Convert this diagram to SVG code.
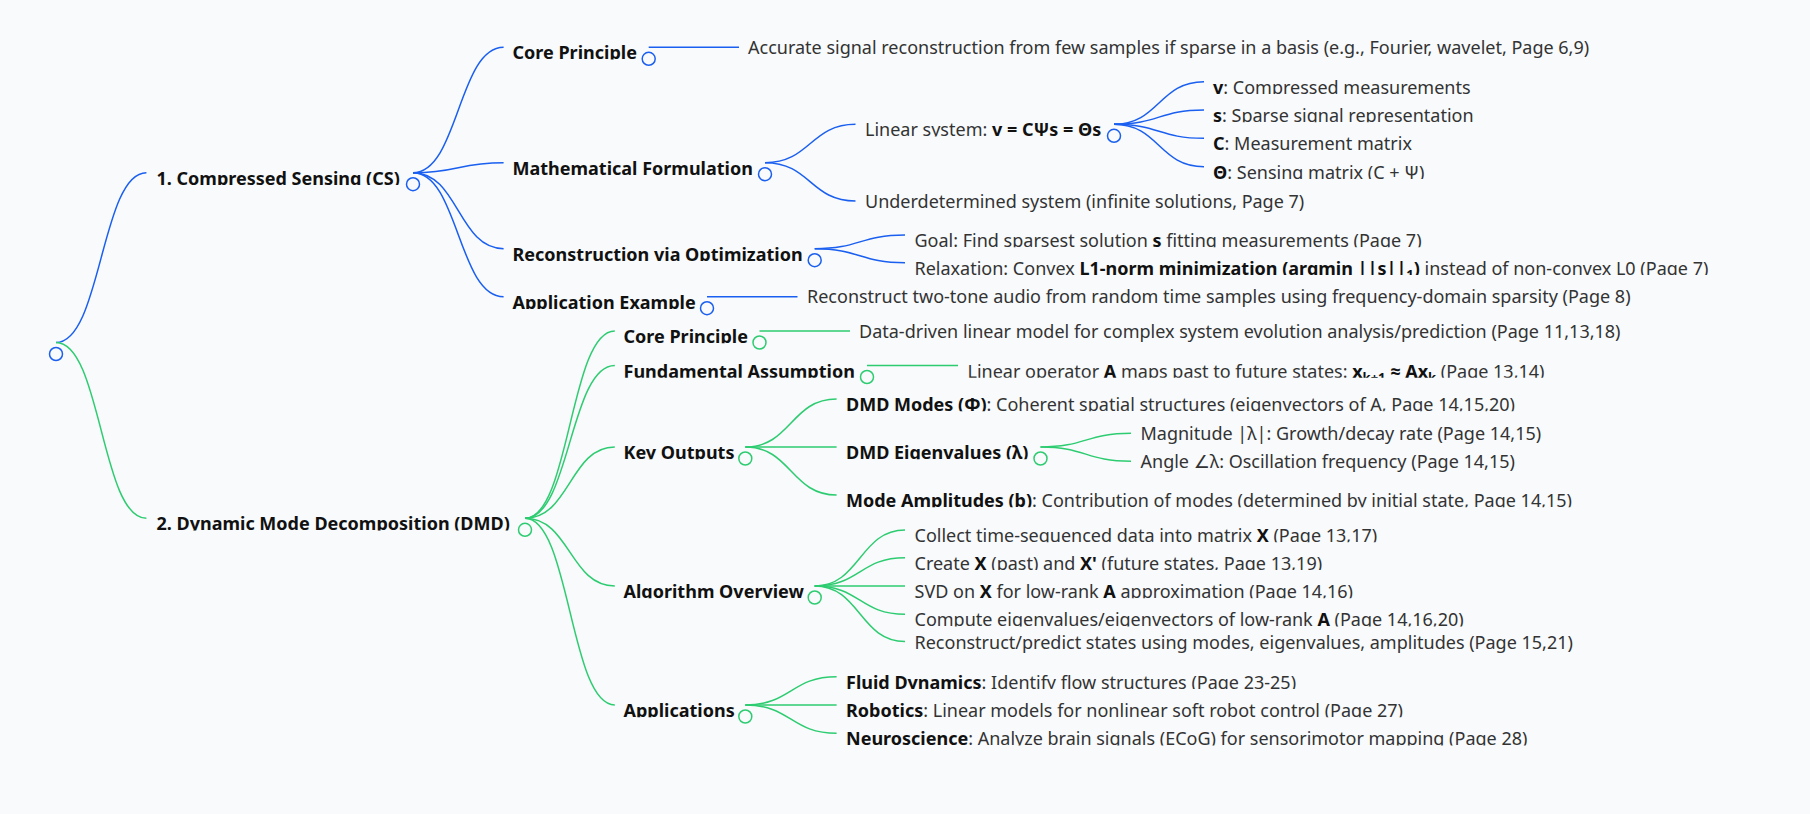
<svg xmlns="http://www.w3.org/2000/svg" width="1810" height="814" viewBox="0 0 1810 814">
<style>
.t{font-family:"Noto Sans","Open Sans","DejaVu Sans",sans-serif;font-size:18px;fill:#333}
.b{font-weight:700;fill:#111}
.lk path{fill:none;stroke-width:1.5}
.blue path{stroke:#1a5ff0}
.green path{stroke:#2ecc71}
circle.n{stroke-width:1.5;fill:#f8fafc}
circle.nb{stroke:#1a5ff0}
circle.ng{stroke:#2ecc71}
.sub{font-size:13px}
</style>
<defs>
<clipPath id="clipB">
<rect x="150" y="166.7" width="260" height="18.3"/>
<rect x="508" y="41.3" width="138" height="18.3"/>
<rect x="508" y="156.7" width="254" height="18.3"/>
<rect x="508" y="242.7" width="304" height="18.3"/>
<rect x="508" y="290.7" width="196" height="18.3"/>
<rect x="861" y="118.3" width="250" height="18.3"/>
<rect x="1209" y="75.7" width="600" height="18.3"/>
<rect x="1209" y="104" width="600" height="18.3"/>
<rect x="1209" y="132.3" width="600" height="18.3"/>
<rect x="1209" y="160.7" width="600" height="18.3"/>
<rect x="910" y="229" width="899" height="18.3"/>
<rect x="910" y="256.7" width="899" height="18.3"/>
<rect x="150" y="512.3" width="372" height="18.3"/>
<rect x="619" y="325" width="138" height="18.3"/>
<rect x="619" y="359.5" width="245" height="18.3"/>
<rect x="619" y="441" width="124" height="18.3"/>
<rect x="619" y="580" width="193" height="18.3"/>
<rect x="619" y="699" width="124" height="18.3"/>
<rect x="963" y="359.5" width="846" height="18.3"/>
<rect x="842" y="393" width="967" height="18.3"/>
<rect x="842" y="441" width="196" height="18.3"/>
<rect x="842" y="489" width="967" height="18.3"/>
<rect x="910" y="524" width="899" height="18.3"/>
<rect x="910" y="551.7" width="899" height="18.3"/>
<rect x="910" y="580" width="899" height="18.3"/>
<rect x="910" y="608.3" width="899" height="18.3"/>
<rect x="842" y="670.7" width="967" height="18.3"/>
<rect x="842" y="699" width="967" height="18.3"/>
<rect x="842" y="727.3" width="967" height="18.3"/>
</clipPath>
</defs>
<rect width="1810" height="814" fill="#f8fafc"/>

<g id="connectors" class="lk">
<g class="blue">
<path d="M56 342.5C101.2 342.5 101.2 172.7 146.4 172.7"/>
<path d="M413 172.7C458.3 172.7 458.3 47.3 503.6 47.3"/>
<path d="M413 172.7C458.3 172.7 458.3 162.7 503.6 162.7"/>
<path d="M413 172.7C458.3 172.7 458.3 248.7 503.6 248.7"/>
<path d="M413 172.7C458.3 172.7 458.3 296.7 503.6 296.7"/>
<path d="M648.7 47.3H739"/>
<path d="M765 162.7C810.3 162.7 810.3 124.3 855.5 124.3"/>
<path d="M765 162.7C810.3 162.7 810.3 201 855.5 201"/>
<path d="M1114 124.3C1159 124.3 1159 81.7 1204 81.7"/>
<path d="M1114 124.3C1159 124.3 1159 110 1204 110"/>
<path d="M1114 124.3C1159 124.3 1159 138.3 1204 138.3"/>
<path d="M1114 124.3C1159 124.3 1159 166.7 1204 166.7"/>
<path d="M814.7 248.7C859.9 248.7 859.9 235 905 235"/>
<path d="M814.7 248.7C859.9 248.7 859.9 262.7 905 262.7"/>
<path d="M707 296.7H797.5"/>
</g>
<g class="green">
<path d="M56 342.5C101.2 342.5 101.2 518.3 146.4 518.3"/>
<path d="M525 518.3C569.9 518.3 569.9 331 614.8 331"/>
<path d="M525 518.3C569.9 518.3 569.9 365.5 614.8 365.5"/>
<path d="M525 518.3C569.9 518.3 569.9 447 614.8 447"/>
<path d="M525 518.3C569.9 518.3 569.9 586 614.8 586"/>
<path d="M525 518.3C569.9 518.3 569.9 705 614.8 705"/>
<path d="M759.5 331H850"/>
<path d="M867 365.5H958"/>
<path d="M745.3 447C791 447 791 399 836.6 399"/>
<path d="M745.3 447H836.6"/>
<path d="M745.3 447C791 447 791 495 836.6 495"/>
<path d="M1040.5 447C1085.8 447 1085.8 433.3 1131 433.3"/>
<path d="M1040.5 447C1085.8 447 1085.8 461.3 1131 461.3"/>
<path d="M814.7 586C859.9 586 859.9 530 905 530"/>
<path d="M814.7 586C859.9 586 859.9 557.7 905 557.7"/>
<path d="M814.7 586H905"/>
<path d="M814.7 586C859.9 586 859.9 614.3 905 614.3"/>
<path d="M814.7 586C859.9 586 859.9 641.5 905 641.5"/>
<path d="M745.3 705C791 705 791 676.7 836.6 676.7"/>
<path d="M745.3 705H836.6"/>
<path d="M745.3 705C791 705 791 733.3 836.6 733.3"/>
</g>
</g>

<g id="root"><circle class="n nb" cx="56" cy="354" r="6.5"/></g>

<g clip-path="url(#clipB)">
<g id="cs"><text class="t b" x="156.5" y="184.7">1. Compressed Sensing (CS)</text></g>
<g id="cs-core"><text class="t b" x="512.5" y="59.3">Core Principle</text></g>
<g id="cs-math"><text class="t b" x="512.5" y="174.7">Mathematical Formulation</text></g>
<g id="cs-recon"><text class="t b" x="512.5" y="260.7">Reconstruction via Optimization</text></g>
<g id="cs-app"><text class="t b" x="512.5" y="308.7">Application Example</text></g>
<g id="cs-linear"><text class="t" x="865" y="136.3">Linear system: <tspan class="b">v = CΨs = Θs</tspan></text></g>
<g id="cs-v"><text class="t" x="1213" y="93.7"><tspan class="b">v</tspan>: Compressed measurements</text></g>
<g id="cs-s"><text class="t" x="1213" y="122"><tspan class="b">s</tspan>: Sparse signal representation</text></g>
<g id="cs-c"><text class="t" x="1213" y="150.3"><tspan class="b">C</tspan>: Measurement matrix</text></g>
<g id="cs-theta"><text class="t" x="1213" y="178.7"><tspan class="b">Θ</tspan>: Sensing matrix (C + Ψ)</text></g>
<g id="cs-goal"><text class="t" x="914.5" y="247">Goal: Find sparsest solution <tspan class="b">s</tspan> fitting measurements (Page 7)</text></g>
<g id="cs-relax"><text class="t" x="914.5" y="274.7">Relaxation: Convex <tspan class="b">L1-norm minimization (argmin ||s||<tspan class="sub" dy="4">1</tspan><tspan dy="-4">)</tspan></tspan> instead of non-convex L0 (Page 7)</text></g>
<g id="dmd"><text class="t b" x="156.5" y="530.3">2. Dynamic Mode Decomposition (DMD)</text></g>
<g id="dmd-core"><text class="t b" x="623.5" y="343">Core Principle</text></g>
<g id="dmd-fund"><text class="t b" x="623.5" y="377.5">Fundamental Assumption</text></g>
<g id="dmd-key"><text class="t b" x="623.5" y="459">Key Outputs</text></g>
<g id="dmd-algo"><text class="t b" x="623.5" y="598">Algorithm Overview</text></g>
<g id="dmd-apps"><text class="t b" x="623.5" y="717">Applications</text></g>
<g id="dmd-linop"><text class="t" x="967.5" y="377.5">Linear operator <tspan class="b">A</tspan> maps past to future states: <tspan class="b">x<tspan class="sub" dy="4">k+1</tspan><tspan dy="-4"> ≈ Ax</tspan><tspan class="sub" dy="4">k</tspan></tspan><tspan dy="-4"> (Page 13,14)</tspan></text></g>
<g id="dmd-modes"><text class="t" x="846" y="411"><tspan class="b">DMD Modes (Φ)</tspan>: Coherent spatial structures (eigenvectors of A, Page 14,15,20)</text></g>
<g id="dmd-eig"><text class="t b" x="846" y="459">DMD Eigenvalues (λ)</text></g>
<g id="dmd-amp"><text class="t" x="846" y="507"><tspan class="b">Mode Amplitudes (b)</tspan>: Contribution of modes (determined by initial state, Page 14,15)</text></g>
<g id="dmd-collect"><text class="t" x="914.5" y="542">Collect time-sequenced data into matrix <tspan class="b">X</tspan> (Page 13,17)</text></g>
<g id="dmd-create"><text class="t" x="914.5" y="569.7">Create <tspan class="b">X</tspan> (past) and <tspan class="b">X'</tspan> (future states, Page 13,19)</text></g>
<g id="dmd-svd"><text class="t" x="914.5" y="598">SVD on <tspan class="b">X</tspan> for low-rank <tspan class="b">A</tspan> approximation (Page 14,16)</text></g>
<g id="dmd-compute"><text class="t" x="914.5" y="626.3">Compute eigenvalues/eigenvectors of low-rank <tspan class="b">A</tspan> (Page 14,16,20)</text></g>
<g id="dmd-fluid"><text class="t" x="846" y="688.7"><tspan class="b">Fluid Dynamics</tspan>: Identify flow structures (Page 23-25)</text></g>
<g id="dmd-robot"><text class="t" x="846" y="717"><tspan class="b">Robotics</tspan>: Linear models for nonlinear soft robot control (Page 27)</text></g>
<g id="dmd-neuro"><text class="t" x="846" y="745.3"><tspan class="b">Neuroscience</tspan>: Analyze brain signals (ECoG) for sensorimotor mapping (Page 28)</text></g>
</g>

<g id="cs-accurate"><text class="t" x="748" y="53.8">Accurate signal reconstruction from few samples if sparse in a basis (e.g., Fourier, wavelet, Page 6,9)</text></g>
<g id="cs-under"><text class="t" x="865" y="207.5">Underdetermined system (infinite solutions, Page 7)</text></g>
<g id="cs-example"><text class="t" x="807" y="303.2">Reconstruct two-tone audio from random time samples using frequency-domain sparsity (Page 8)</text></g>
<g id="dmd-data"><text class="t" x="859" y="337.5">Data-driven linear model for complex system evolution analysis/prediction (Page 11,13,18)</text></g>
<g id="dmd-mag"><text class="t" x="1140.5" y="439.8">Magnitude |λ|: Growth/decay rate (Page 14,15)</text></g>
<g id="dmd-angle"><text class="t" x="1140.5" y="467.8">Angle ∠λ: Oscillation frequency (Page 14,15)</text></g>
<g id="dmd-reconst"><text class="t" x="914.5" y="649">Reconstruct/predict states using modes, eigenvalues, amplitudes (Page 15,21)</text></g>

<g id="circles">
<circle class="n nb" cx="413" cy="184.2" r="6.5"/>
<circle class="n nb" cx="648.7" cy="58.8" r="6.5"/>
<circle class="n nb" cx="765" cy="174.2" r="6.5"/>
<circle class="n nb" cx="814.7" cy="260.2" r="6.5"/>
<circle class="n nb" cx="707" cy="308.2" r="6.5"/>
<circle class="n nb" cx="1114" cy="135.8" r="6.5"/>
<circle class="n ng" cx="525" cy="529.8" r="6.5"/>
<circle class="n ng" cx="759.5" cy="342.5" r="6.5"/>
<circle class="n ng" cx="867" cy="377" r="6.5"/>
<circle class="n ng" cx="745.3" cy="458.5" r="6.5"/>
<circle class="n ng" cx="1040.5" cy="458.5" r="6.5"/>
<circle class="n ng" cx="814.7" cy="597.5" r="6.5"/>
<circle class="n ng" cx="745.3" cy="716.5" r="6.5"/>
</g>
</svg>
